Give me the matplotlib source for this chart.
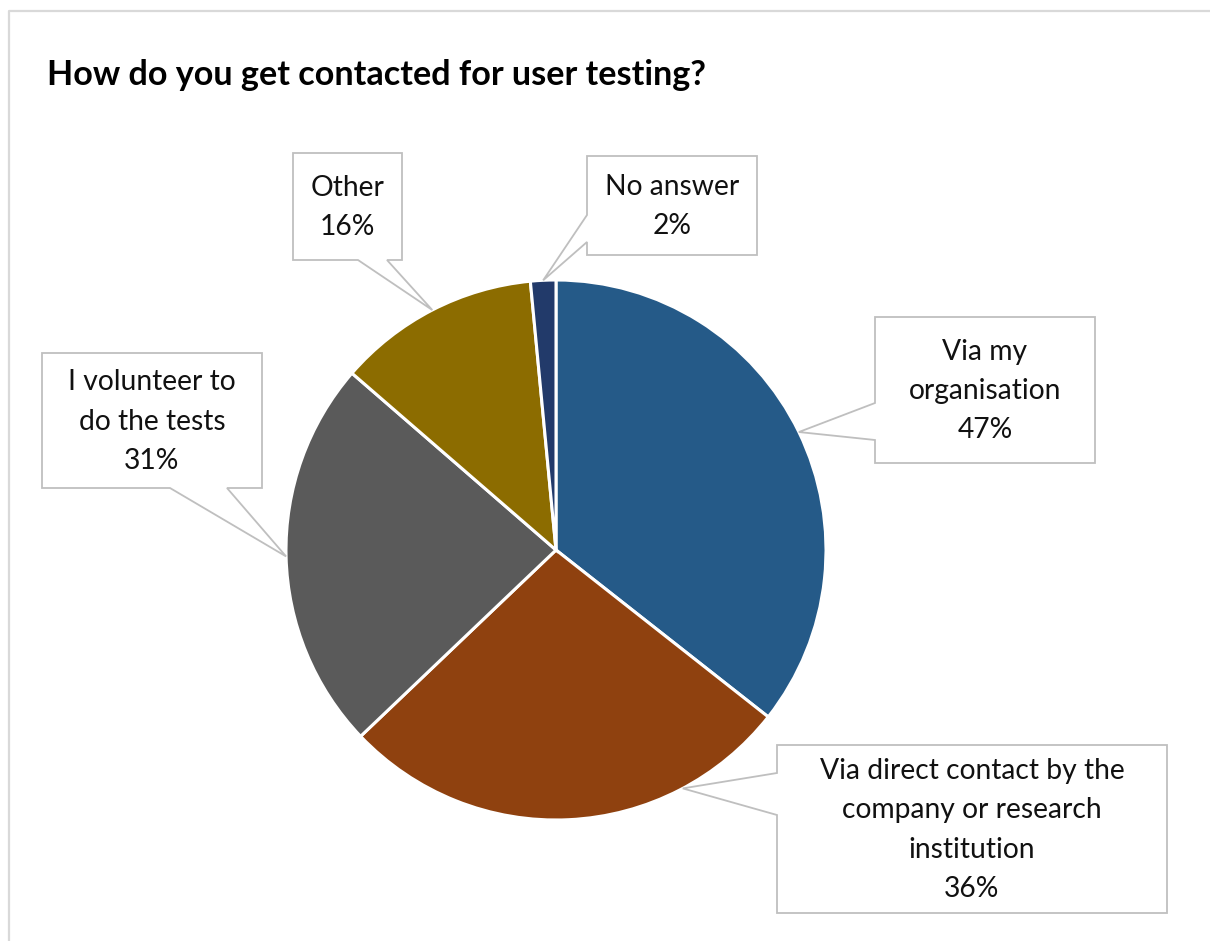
import matplotlib
matplotlib.use("Agg")
import matplotlib.pyplot as plt
from matplotlib.patches import Polygon
import numpy as np

# ---- data ----
categories = ["Via my\norganisation",
              "Via direct contact by the\ncompany or research\ninstitution",
              "I volunteer to\ndo the tests",
              "Other",
              "No answer"]
values = [47, 36, 31, 16, 2]
colors = ["#255A88", "#8F410F", "#5A5A5A", "#8C6C00", "#223A6A"]
title = "How do you get contacted for user testing?"

W, H = 1210, 941
FONT = "Lato"

fig = plt.figure(figsize=(W / 100, H / 100), dpi=100)
ax = fig.add_axes([0, 0, 1, 1])

def py(y):  # pixel-from-top to data y
    return H - y

cx, cy, R = 556, py(550), 270
wedges, _ = ax.pie(values, colors=colors, startangle=90, counterclock=False,
                   center=(cx, cy), radius=R, frame=True,
                   wedgeprops=dict(edgecolor="white", linewidth=2.2))
ax.set_xlim(0, W)
ax.set_ylim(0, H)
ax.set_aspect("equal")
ax.axis("off")

# frame (top and left edges of the cropped chart area)
ax.plot([9, 9, W], [0, py(11), py(11)], color="#d9d9d9", lw=1.6, solid_capstyle="butt")

# callout layout: box (left, top, right, bottom) in px from top-left,
# pointer side and base positions, optional anchor angle override (deg clockwise from top)
layout = [
    dict(box=(875, 317, 1095, 463), side="left", base=(403, 440), ang=None),
    dict(box=(777, 745, 1167, 913), side="left", base=(773, 815), ang=152),
    dict(box=(42, 353, 262, 488), side="bottom", base=(170, 227), ang=None),
    dict(box=(293, 153, 402, 260), side="bottom", base=(358, 387), ang=None),
    dict(box=(587, 156, 757, 255), side="left", base=(215, 242), ang=None),
]

total = sum(values)
start = 0.0
for cat, v, lay in zip(categories, values, layout):
    span = v / total * 360
    mid = start + span / 2
    start += span
    a = np.deg2rad(lay["ang"] if lay["ang"] is not None else mid)
    tx, ty = cx + R * np.sin(a), cy + R * np.cos(a)
    L, T, Rr, B = lay["box"]
    b1, b2 = lay["base"]
    if lay["side"] == "left":
        pts = [(L, py(T)), (Rr, py(T)), (Rr, py(B)), (L, py(B)),
               (L, py(b2)), (tx, ty), (L, py(b1))]
    else:
        pts = [(L, py(T)), (Rr, py(T)), (Rr, py(B)), (b2, py(B)),
               (tx, ty), (b1, py(B)), (L, py(B))]
    ax.add_patch(Polygon(pts, closed=True, facecolor="white",
                         edgecolor="#bfbfbf", linewidth=1.3, zorder=5))
    ax.text((L + Rr) / 2, py((T + B) / 2 + 1), f"{cat}\n{v}%", ha="center",
            va="center", fontsize=20.3, family=FONT, color="#111111",
            linespacing=1.62, zorder=6)

ax.text(47, py(85), title, ha="left", va="baseline", fontsize=24.6,
        fontweight="bold", family=FONT, color="black")

fig.savefig("out.png", dpi=100)
